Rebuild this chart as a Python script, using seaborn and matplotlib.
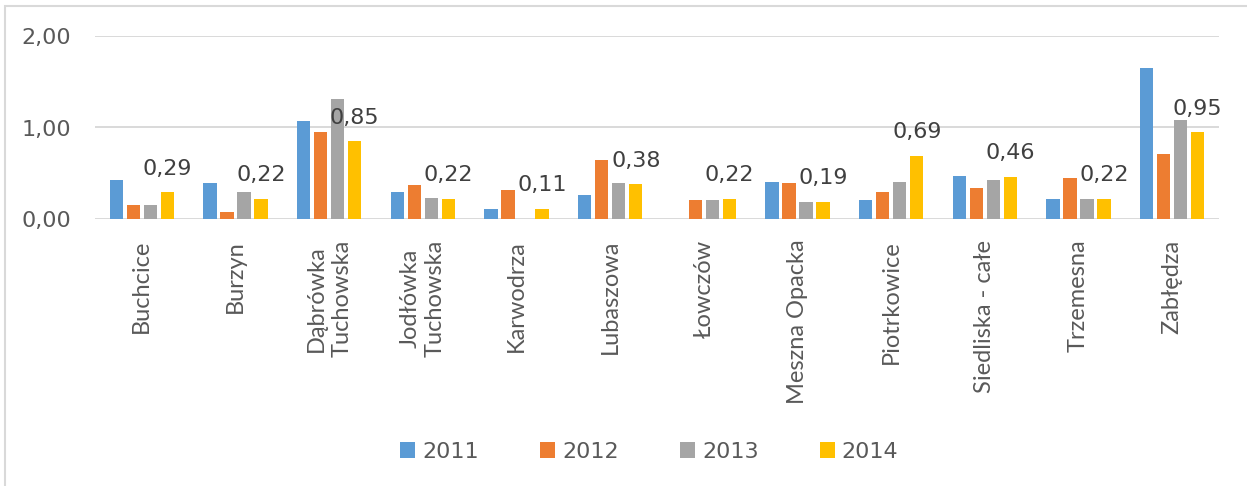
import matplotlib
matplotlib.use("Agg")
import matplotlib.pyplot as plt
from matplotlib.patches import Rectangle
import seaborn as sns
import pandas as pd

# Villages (sołectwa) on the category axis
categories = [
    "Buchcice", "Burzyn", "Dąbrówka\nTuchowska", "Jodłówka\nTuchowska",
    "Karwodrza", "Lubaszowa", "Łowczów", "Meszna Opacka",
    "Piotrkowice", "Siedliska - całe", "Trzemesna", "Zabłędza",
]
years = ["2011", "2012", "2013", "2014"]

v2011 = [0.43, 0.39, 1.07, 0.30, 0.11, 0.26, 0.00, 0.40, 0.21, 0.47, 0.22, 1.65]
v2012 = [0.15, 0.08, 0.95, 0.37, 0.32, 0.64, 0.21, 0.39, 0.30, 0.34, 0.45, 0.71]
v2013 = [0.15, 0.30, 1.31, 0.23, 0.00, 0.39, 0.21, 0.19, 0.40, 0.43, 0.22, 1.08]
v2014 = [0.29, 0.22, 0.85, 0.22, 0.11, 0.38, 0.22, 0.19, 0.69, 0.46, 0.22, 0.95]

yticks = [0.0, 1.0, 2.0]
colors = ["#5B9BD5", "#ED7D31", "#A5A5A5", "#FFC000"]
text_gray = "#595959"

series = {"2011": v2011, "2012": v2012, "2013": v2013, "2014": v2014}
df = pd.DataFrame(
    [(c, y, v) for y in years for c, v in zip(categories, series[y])],
    columns=["cat", "year", "val"],
)

sns.set_theme(style="white")
plt.rcParams["font.family"] = ["DejaVu Sans"]

W, H = 1247, 486
fig = plt.figure(figsize=(W / 100, H / 100), dpi=100)
ax = fig.add_axes([95 / W, 1 - 219 / H, (1219 - 95) / W, (219 - 36) / H])

sns.barplot(
    data=df, x="cat", y="val", hue="year", order=categories, hue_order=years,
    palette=colors, width=0.73, gap=0.22, linewidth=0, saturation=1,
    ax=ax, legend=True,
)

ax.set_ylim(0, 2)
ax.set_xlim(-0.5, len(categories) - 0.5)
ax.set_yticks(yticks)
ax.set_yticklabels([f"{t:.2f}".replace(".", ",") for t in yticks])
ax.set_xticks(range(len(categories)))
ax.set_xticklabels(
    categories, rotation=90, ha="center", va="top", multialignment="center",
    fontfamily="Lato", fontsize=17, color=text_gray, linespacing=1.25,
)
ax.set_xlabel("")
ax.set_ylabel("")
for s in ax.spines.values():
    s.set_visible(False)
ax.yaxis.grid(True, color="#D9D9D9", linewidth=1.4)
ax.xaxis.grid(False)
ax.set_axisbelow(True)
ax.tick_params(axis="y", length=0, pad=17, labelsize=16, labelcolor=text_gray)
ax.tick_params(axis="x", length=0, pad=15)

# Value labels on the 2014 series
yellow = ax.containers[3]
for bar, v in zip(yellow, v2014):
    ax.annotate(
        f"{v:.2f}".replace(".", ","),
        xy=(bar.get_x() + bar.get_width() / 2, bar.get_height()),
        xytext=(0, 12.6), textcoords="offset points",
        ha="center", va="baseline", fontsize=16, color="#404040",
    )

leg = ax.legend(
    loc="center", bbox_to_anchor=(0.493, 1 - (452 - 36) / (219 - 36)),
    ncol=4, frameon=False, fontsize=16, handlelength=0.7, handleheight=0.7,
    handletextpad=0.3, columnspacing=2.75, borderaxespad=0,
)
for t in leg.get_texts():
    t.set_color(text_gray)

# Chart frame
fig.patches.append(Rectangle(
    (4.5 / W, -0.2), 1.2, 1 - 5.5 / H + 0.2, transform=fig.transFigure,
    fill=False, edgecolor="#D9D9D9", linewidth=1.5, clip_on=False,
))

fig.savefig("out.png", dpi=100, facecolor="white")
